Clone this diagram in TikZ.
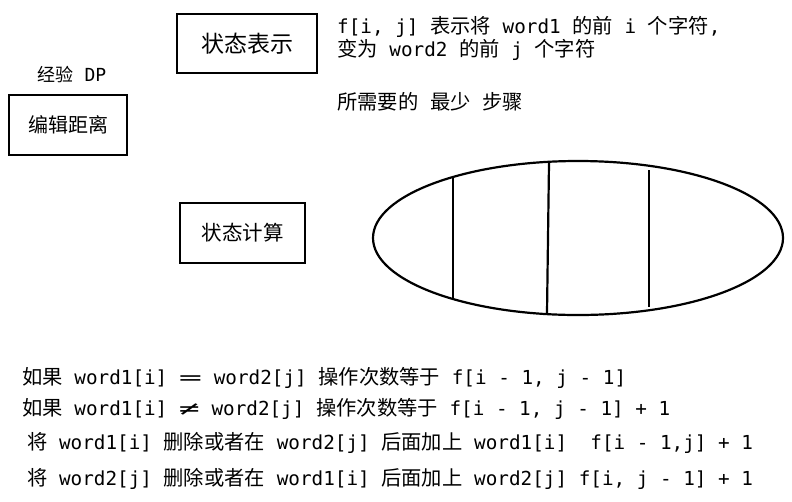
\documentclass[tikz,border=0pt]{standalone}
\usepackage{fontspec}
\usepackage{graphicx}
\setmainfont{Noto Sans CJK SC}
\setmonofont{DejaVu Sans Mono}
\usetikzlibrary{shapes.geometric}
\newcommand{\mono}[1]{{\ttfamily\fontsize{19.3}{23}\selectfont #1}}
\newcommand{\wideeq}{\mono{ }\scalebox{2}[1]{\mono{=}}\mono{ }}
\newcommand{\wideneq}{\mono{ }\scalebox{1.8}[1]{\mono{≠}}\mono{ }}

\begin{document}
\begin{tikzpicture}[x=1pt,y=-1pt,
  box/.style={draw,line width=2.4pt,inner sep=0pt},
  line/.style={anchor=west,inner sep=0pt,font=\fontsize{20.3}{24}\selectfont}]
\useasboundingbox (0,0) rectangle (792,501);

% boxes
\node[box,minimum width=140,minimum height=59,font=\fontsize{23}{27}\selectfont] (repr) at (247,43.5) {状态表示};
\node[box,minimum width=118,minimum height=60,font=\fontsize{20}{24}\selectfont] (edit) at (68,125) {编辑距离};
\node[box,minimum width=125,minimum height=60,font=\fontsize{20.5}{24}\selectfont] (calc) at (242.5,233) {状态计算};
\node[inner sep=0pt,font=\fontsize{18}{21}\selectfont] (tag) at (72,75) {经验{\ttfamily\fontsize{18}{21}\selectfont{} DP}};

% state set
\node[ellipse,draw,line width=2.2pt,minimum width=410,minimum height=154] (set) at (578,238) {};
\draw[line width=2.2pt] (453,178) -- (453,299);
\draw[line width=2.2pt] (549,163) -- (547,313);
\draw[line width=2.2pt] (649,170) -- (649,307);

% meaning of f
\node[line] (def1) at (337,27) {\mono{f[i, j] }表示将\mono{ word1 }的前\mono{ i }个字符\mono{,}};
\node[line] (def2) at (337,50) {变为\mono{ word2 }的前\mono{ j }个字符};
\node[line] (def3) at (337,102) {所需要的\mono{ }最少\mono{ }步骤};

% transitions
\node[line] (rule1) at (22,378) {如果\mono{ word1[i]}\wideeq\mono{word2[j] }操作次数等于\mono{ f[i - 1, j - 1]}};
\node[line] (rule2) at (22,409) {如果\mono{ word1[i]}\wideneq\mono{word2[j] }操作次数等于\mono{ f[i - 1, j - 1] + 1}};
\node[line] (rule3) at (27,443) {将\mono{ word1[i] }删除或者在\mono{ word2[j] }后面加上\mono{ word1[i]\ \ f[i - 1,j] + 1}};
\node[line] (rule4) at (27,479) {将\mono{ word2[j] }删除或者在\mono{ word1[i] }后面加上\mono{ word2[j] f[i, j - 1] + 1}};
\end{tikzpicture}
\end{document}
